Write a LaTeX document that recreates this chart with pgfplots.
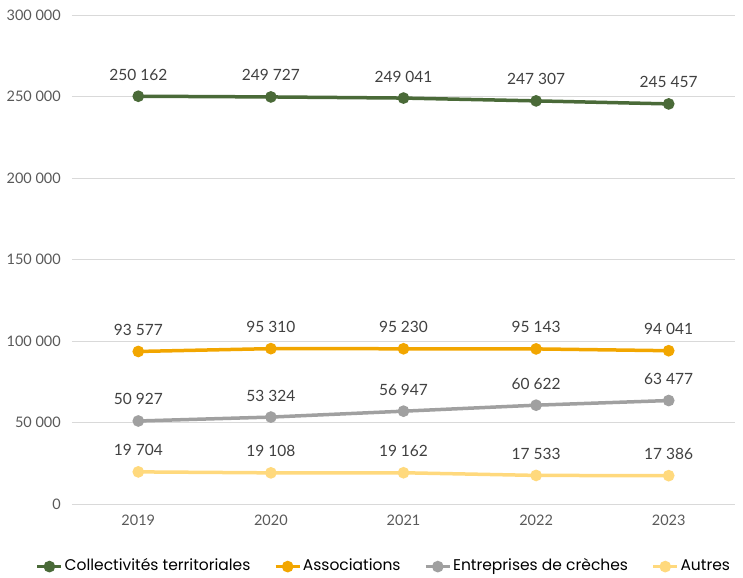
\documentclass[border=0pt]{standalone}
\usepackage{fontspec}
\setmainfont{Lato}
\newfontfamily\legfont{Poppins}
\usepackage{pgfplots}
\pgfplotsset{compat=1.18}
\definecolor{cgreen}{HTML}{4A6A38}
\definecolor{corange}{HTML}{F2A600}
\definecolor{cgray}{HTML}{A0A0A0}
\definecolor{cyellow}{HTML}{FFD97D}
\definecolor{ctick}{HTML}{595959}
\definecolor{clabel}{HTML}{404040}
\definecolor{cgrid}{HTML}{D9D9D9}
\begin{document}
\begin{tikzpicture}
\useasboundingbox (-72bp,-74bp) rectangle (671bp,15bp+489bp);
\begin{axis}[
  scale only axis,
  width=663bp, height=489bp,
  xmin=-0.5, xmax=4.5,
  ymin=0, ymax=300000,
  scaled y ticks=false,
  xtick={0,1,2,3,4},
  xticklabels={2019,2020,2021,2022,2023},
  ytick={0,50000,100000,150000,200000,250000,300000},
  yticklabels={0,50\ 000,100\ 000,150\ 000,200\ 000,250\ 000,300\ 000},
  ymajorgrids,
  grid style={cgrid, line width=0.8bp},
  axis line style={draw=none},
  tick style={draw=none},
  tick label style={font=\fontsize{14.5bp}{17bp}\selectfont, text=ctick, inner sep=1bp},
  xticklabel style={yshift=-10bp},
  yticklabel style={xshift=-10bp},
  point meta=explicit symbolic,
  nodes near coords,
  every node near coord/.append style={anchor=base, yshift=16bp, inner sep=0pt,
     font=\fontsize{15.5bp}{17bp}\selectfont, text=clabel},
  every axis plot/.append style={line width=3.5bp, mark=*, mark size=4bp},
  legend columns=-1,
  legend style={draw=none, at={(0.47,-0.128)}, anchor=center, inner sep=0pt,
    font=\legfont\fontsize{15.5bp}{17bp}\selectfont, text=black,
    nodes={text height=11.5bp, text depth=4bp, inner sep=1.5bp},
    /tikz/every even column/.append style={column sep=22bp}},
  legend image code/.code={
    \draw[#1, mark repeat=2, mark phase=2] plot coordinates {(0bp,0bp) (12bp,0bp) (24bp,0bp)};},
]
\addplot[cgreen, mark options={fill=cgreen}] coordinates {
 (0,250162) [250\ 162] (1,249727) [249\ 727] (2,249041) [249\ 041] (3,247307) [247\ 307] (4,245457) [245\ 457]};
\addlegendentry{Collectivités territoriales}
\addplot[corange, mark options={fill=corange}] coordinates {
 (0,93577) [93\ 577] (1,95310) [95\ 310] (2,95230) [95\ 230] (3,95143) [95\ 143] (4,94041) [94\ 041]};
\addlegendentry{Associations}
\addplot[cgray, mark options={fill=cgray}] coordinates {
 (0,50927) [50\ 927] (1,53324) [53\ 324] (2,56947) [56\ 947] (3,60622) [60\ 622] (4,63477) [63\ 477]};
\addlegendentry{Entreprises de crèches}
\addplot[cyellow, mark options={fill=cyellow}] coordinates {
 (0,19704) [19\ 704] (1,19108) [19\ 108] (2,19162) [19\ 162] (3,17533) [17\ 533] (4,17386) [17\ 386]};
\addlegendentry{Autres}
\end{axis}
\end{tikzpicture}
\end{document}
